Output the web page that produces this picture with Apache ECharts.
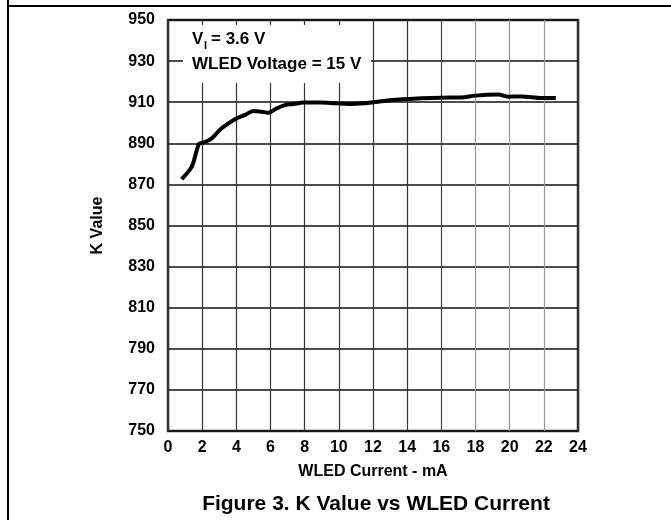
<!DOCTYPE html>
<html>
<head>
<meta charset="utf-8">
<script src="https://cdn.jsdelivr.net/npm/echarts@6/dist/echarts.min.js"></script>
<style>
html,body{margin:0;padding:0;background:#fff;}
#c{width:671px;height:520px;}
</style>
</head>
<body>
<div id="c"></div>
<script>
const currents = [0.80, 1.39, 1.81, 2.07, 2.56, 3.14, 3.92, 4.51, 4.99, 5.48, 5.87, 6.36, 6.85, 7.34, 7.92, 8.90, 9.78, 10.75, 11.93, 13.10, 14.85, 16.02, 17.19, 17.98, 19.34, 19.92, 20.70, 21.88, 22.70];
const kValues = [872.6, 878.6, 889.7, 890.3, 892.4, 897.3, 901.7, 903.8, 905.7, 905.4, 904.9, 907.0, 908.6, 909.1, 909.8, 909.8, 909.5, 909.1, 909.8, 911.1, 911.9, 912.2, 912.3, 913.2, 913.7, 912.7, 912.8, 912.0, 912.0];
const xTitle = 'WLED Current - mA';
const yTitle = 'K Value';
const caption = 'Figure 3. K Value vs WLED Current';
const noteLine1 = ['V', 'I', '= 3.6 V'];
const noteLine2 = 'WLED Voltage = 15 V';

const FONT = '"Liberation Sans", Arial, sans-serif';
const chart = echarts.init(document.getElementById('c'));
const vColors = ['#333','#333','#333','#333','#333','#333','#333','#333','#444','#999','#999','#999','#333'];
chart.setOption({
  animation: false,
  backgroundColor: '#fff',
  grid: {left: 168, right: 93, top: 20, bottom: 89, show: true, borderColor: '#333', borderWidth: 2.5, backgroundColor: 'transparent'},
  xAxis: {
    type: 'value', min: 0, max: 24, interval: 2,
    name: xTitle, nameLocation: 'middle', nameGap: 33,
    nameTextStyle: {fontFamily: FONT, fontWeight: 'bold', fontSize: 16, color: '#000'},
    axisLine: {show: false}, axisTick: {show: false},
    axisLabel: {fontFamily: FONT, fontWeight: 'bold', fontSize: 16, color: '#000', margin: 9},
    splitLine: {show: true, lineStyle: {color: vColors, width: 1.2}}
  },
  yAxis: {
    type: 'value', min: 750, max: 950, interval: 20,
    name: yTitle, nameLocation: 'middle', nameGap: 62,
    nameTextStyle: {fontFamily: FONT, fontWeight: 'bold', fontSize: 16, color: '#000'},
    axisLine: {show: false}, axisTick: {show: false},
    axisLabel: {fontFamily: FONT, fontWeight: 'bold', fontSize: 16, color: '#000', margin: 13},
    splitLine: {show: true, lineStyle: {color: '#111', width: 1.5}}
  },
  title: {
    text: caption, left: 371, top: 489, textAlign: 'center',
    textStyle: {fontFamily: FONT, fontWeight: 'bold', fontSize: 21, color: '#000'}
  },
  series: [{
    type: 'line', data: currents.map((x, i) => [x, kValues[i]]),
    showSymbol: false, smooth: 0.3,
    lineStyle: {color: '#000', width: 4}, z: 5
  }],
  graphic: [
    {type: 'line', shape: {x1: 8, y1: 0, x2: 8, y2: 520}, style: {stroke: '#000', lineWidth: 2}},
    {type: 'line', shape: {x1: 8, y1: 6, x2: 671, y2: 6}, style: {stroke: '#000', lineWidth: 2}},
    {type: 'rect', shape: {x: 183, y: 25, width: 188, height: 58}, style: {fill: '#fff'}, z: 10},
    {type: 'text', left: 192, top: 31, z: 11, style: {text: noteLine1[0], font: 'bold 17px ' + FONT, fill: '#000'}},
    {type: 'text', left: 204, top: 40, z: 11, style: {text: noteLine1[1], font: 'bold 11px ' + FONT, fill: '#000'}},
    {type: 'text', left: 211, top: 31, z: 11, style: {text: noteLine1[2], font: 'bold 17px ' + FONT, fill: '#000'}},
    {type: 'text', left: 192, top: 56, z: 11, style: {text: noteLine2, font: 'bold 17px ' + FONT, fill: '#000'}}
  ]
});
</script>
</body>
</html>
